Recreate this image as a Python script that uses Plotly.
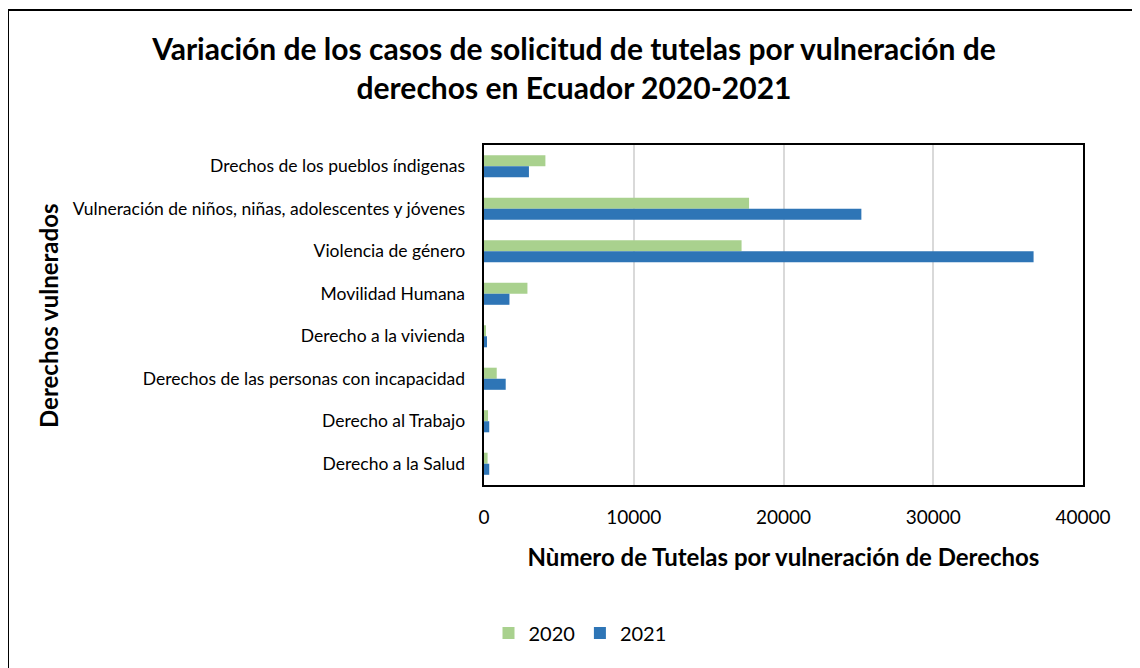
import plotly.graph_objects as go

categories = [
    "Drechos de los pueblos índigenas",
    "Vulneración de niños, niñas, adolescentes y jóvenes",
    "Violencia de género",
    "Movilidad Humana",
    "Derecho a la vivienda",
    "Derechos de las personas con incapacidad",
    "Derecho al Trabajo",
    "Derecho a la Salud",
]
values_2020 = [4100, 17700, 17200, 2900, 130, 850, 270, 240]
values_2021 = [3000, 25200, 36700, 1700, 200, 1450, 350, 350]
x_ticks = [0, 10000, 20000, 30000, 40000]

FONT = "Lato"

fig = go.Figure()
fig.add_trace(go.Bar(y=categories, x=values_2020, name="2020", orientation="h",
                     marker=dict(color="#A9D18E", line=dict(width=0))))
fig.add_trace(go.Bar(y=categories, x=values_2021, name="2021", orientation="h",
                     marker=dict(color="#2E75B6", line=dict(width=0))))

# page body adds an 8px offset, so the figure is 1132x660
W, H = 1132, 660
L, R, T, B = 476, 57, 137, 183
pw, ph = W - L - R, H - T - B

def px(x):
    return (x - 8 - L) / pw

def py(y):
    return 1 - (y - 8 - T) / ph

fig.update_layout(
    width=W, height=H,
    paper_bgcolor="white", plot_bgcolor="white",
    margin=dict(l=L, r=R, t=T, b=B),
    barmode="group", bargap=0.48, bargroupgap=0,
    font=dict(family=FONT, color="black"),
    title=dict(
        text="<b>Variación de los casos de solicitud de tutelas por vulneración de<br>derechos en Ecuador 2020-2021</b>",
        x=0.5, xanchor="center", y=1 - (60 - 8) / H, yanchor="middle",
        font=dict(size=30, family=FONT, color="black"),
    ),
    xaxis=dict(
        range=[0, 40000], tickvals=x_ticks, ticktext=[str(v) for v in x_ticks],
        showgrid=True, gridcolor="#D9D9D9", gridwidth=2,
        showline=True, linecolor="black", linewidth=2, mirror=True,
        zeroline=False, ticks="", tickfont=dict(size=19, family=FONT),
        ticklabelstandoff=14,
        title=dict(text="<b>Nùmero de Tutelas por vulneración de Derechos</b>",
                   font=dict(size=24, family=FONT), standoff=22),
    ),
    yaxis=dict(
        autorange="reversed", showline=True, linecolor="black", linewidth=2, mirror=True,
        ticks="", tickfont=dict(size=17.5, family=FONT), ticksuffix="   ",
    ),
    legend=dict(orientation="h", x=px(580), xanchor="center", y=py(633), yanchor="middle",
                font=dict(size=20, family=FONT), traceorder="normal"),
    annotations=[dict(text="<b>Derechos vulnerados</b>", textangle=-90,
                      xref="paper", yref="paper", x=px(48), y=py(316),
                      xanchor="center", yanchor="middle", showarrow=False,
                      font=dict(size=24, family=FONT))],
    shapes=[dict(type="rect", xref="paper", yref="paper",
                 x0=px(8), x1=px(1200), y0=py(720), y1=py(10),
                 line=dict(color="black", width=2), layer="below")],
)

fig.write_html("out.html")
